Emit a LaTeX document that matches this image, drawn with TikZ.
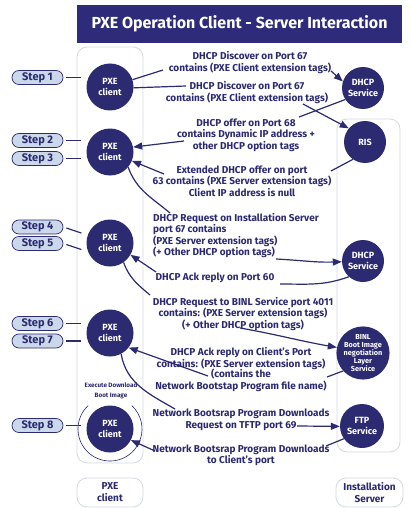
\documentclass[tikz,border=0pt]{standalone}
\usepackage{fontspec}
\setmainfont{Fira Sans}
\usetikzlibrary{arrows.meta}
\definecolor{navy}{HTML}{2C2A70}
\definecolor{titlebg}{HTML}{2E2C7A}
\definecolor{pillbg}{HTML}{CBD8EA}
\definecolor{colbox}{HTML}{D3DAE3}
\begin{document}
\begin{tikzpicture}[x=1pt,y=1pt,
  txt/.style={text=navy, font=\bfseries\fontsize{10}{11.5}\selectfont, align=center, inner sep=0pt},
  client/.style={circle, fill=navy, minimum size=47pt, inner sep=0pt, text=white, font=\bfseries\fontsize{9}{11.5}\selectfont, align=center},
  server/.style={circle, fill=navy, minimum size=42pt, inner sep=0pt, text=white, font=\bfseries\fontsize{9}{11}\selectfont, align=center},
  steppill/.style={draw=navy, line width=0.7pt, fill=pillbg, rounded corners=7pt, minimum width=51pt, minimum height=14pt, inner sep=0pt, text=navy, font=\bfseries\fontsize{11}{11}\selectfont},
  conn/.style={draw=navy, line width=1.2pt},
  arr/.style={conn, -{Triangle[length=9pt,width=7pt]}},
  column/.style={draw=colbox, line width=0.8pt, rounded corners=10pt, fill=white},
  lbl/.style={column, text=navy, font=\bfseries\fontsize{10}{12}\selectfont, align=center, inner sep=0pt}
]
\useasboundingbox (0,0) rectangle (410,-508);
\fill[white] (0,0) rectangle (410,-508);

% title
\node[fill=titlebg, minimum width=325pt, minimum height=38pt, inner sep=0pt, text=white,
      font=\bfseries\fontsize{16}{16}\selectfont] (title) at (239.5,-24) {PXE Operation Client - Server Interaction};

% columns
\draw[column] (77,-47) rectangle (143,-463);
\draw[column] (337,-119) rectangle (400,-452);
\node[lbl, minimum width=66pt, minimum height=29pt] (lblc) at (110,-492.5) {PXE\\client};
\node[lbl, minimum width=67pt, minimum height=29pt] (lbls) at (369.5,-492.5) {Installation\\Server};

% client circles
\node[client] (c1) at (110,-87) {PXE\\client};
\node[client] (c2) at (110,-152) {PXE\\client};
\node[client] (c3) at (110,-243) {PXE\\client};
\node[client] (c4) at (110,-333) {PXE\\client};
\node[client] (c5) at (110,-429) {PXE\\client};
\draw[navy, line width=0.6pt] (c5.center) ++(133:32) arc[start angle=133, end angle=407, radius=32];
\node[txt, font=\bfseries\fontsize{6.3}{10.5}\selectfont] (tX) at (111,-391) {Execute Download\\Boot Image};

% server circles
\node[server] (d1) at (363,-88) {DHCP\\Service};
\node[server] (ris) at (365,-142) {RIS};
\node[server] (d2) at (363,-261) {DHCP\\Service};
\node[server, minimum size=46pt, font=\bfseries\fontsize{7.3}{7.9}\selectfont] (binl) at (363,-353) {BINL\\Boot Image\\negotiation\\Layer\\Service};
\node[server, minimum size=44pt] (ftp) at (362,-426) {FTP\\Service};

% step pills
\node[steppill] (s1) at (37.5,-77.5) {Step 1};
\node[steppill] (s2) at (37.5,-140.5) {Step 2};
\node[steppill] (s3) at (37.5,-158.5) {Step 3};
\node[steppill] (s4) at (37.5,-227) {Step 4};
\node[steppill] (s5) at (37.5,-243.5) {Step 5};
\node[steppill] (s6) at (37.5,-323.5) {Step 6};
\node[steppill] (s7) at (37.5,-341) {Step 7};
\node[steppill] (s8) at (37.5,-425.5) {Step 8};
\foreach \s in {s1,s2,s3,s6,s7,s8}
  \draw[conn] (\s.east) ++(3,0) -- ++(15,0);
\draw[conn] (s4.east) ++(3,-1) -- ++(15,-5);
\draw[conn] (s5.east) ++(3,-1) -- ++(15,-5);

% texts
\node[txt] (tA) at (250,-62.5) {DHCP Discover on Port 67\\contains (PXE Client extension tags)};
\node[txt] (tB) at (247,-92.5) {DHCP Discover on Port 67\\contains (PXE Client extension tags)};
\node[txt] (tC) at (246,-135) {DHCP offer on Port 68\\contains Dynamic IP address +\\other DHCP option tags};
\node[txt] (tD) at (242,-181) {Extended DHCP offer on port\\63 contains (PXE Server extension tags)\\Client IP address is null};
\node[txt, anchor=west, align=left] (tE) at (153,-235.5) {DHCP Request on Installation Server\\port 67 contains\\(PXE Server extension tags)\\(+ Other DHCP option tags)};
\node[txt] (tF) at (215,-278) {DHCP Ack reply on Port 60};
\node[txt] (tG) at (243,-314) {DHCP Request to BINL Service port 4011\\contains: (PXE Server extension tags)\\(+ Other DHCP option tags)};
\node[txt] (tH) at (241,-358.5) {DHCP Ack reply on Client's Port\\contains: (PXE Server extension tags)};
\node[txt, font=\bfseries\fontsize{10}{12.5}\selectfont] (tHb) at (241,-380.5) {(contains the\\Network Bootstap Program file name)};
\node[txt] (tI) at (241,-420) {Network Bootsrap Program Downloads\\Request on TFTP port 69};
\node[txt] (tJ) at (241,-455.5) {Network Bootsrap Program Downloads\\to Client's port};

% connector free ends
\coordinate (a1) at (163,-70);  \coordinate (a2) at (331,-71);
\coordinate (b1) at (186,-86);  \coordinate (b2) at (303,-104);
\coordinate (k1) at (299,-117); \coordinate (k2) at (184,-141);
\coordinate (m1) at (331,-171); \coordinate (m2) at (164,-174);
\coordinate (e1) at (170,-213); \coordinate (e2) at (276,-259);
\coordinate (f1) at (280,-284); \coordinate (f2) at (156,-272);
\coordinate (g1) at (150,-295); \coordinate (g2) at (240,-328);
\coordinate (h1) at (327,-377); \coordinate (h2) at (208,-376);
\coordinate (i1) at (175,-409); \coordinate (i2) at (297,-426);
\coordinate (j1) at (326,-446); \coordinate (j2) at (155,-451);

% connectors
\draw[conn] (c1.18) -- (a1);
\draw[arr] (a2) -- (d1.162);
\draw[conn] (c1.-2) -- (b1);
\draw[arr] (b2) -- (ris.140);
\draw[conn] (d1.213) -- (k1);
\draw[arr] (k2) -- (c2.12);
\draw[conn] (ris.235) -- (m1);
\draw[arr] (m2) -- (c2.-22);
\draw[conn] (c2.-40) to[out=-70,in=140] (e1);
\draw[arr] (e2) to[out=-3,in=182] (d2.182);
\draw[conn] (d2.228) to[out=200,in=0] (f1);
\draw[arr] (f2) -- (c3.-30);
\draw[conn] (c3.-55) to[out=-70,in=140] (g1);
\draw[arr] (g2) to[out=-10,in=170] (binl.168);
\draw[conn] (binl.222) -- (h1);
\draw[arr] (h2) -- (c4.-38);
\draw[conn] (c4.-62) to[out=-80,in=150] (i1);
\draw[arr] (i2) -- (ftp.181);
\draw[conn] (ftp.215) -- (j1);
\draw[arr] (j2) -- (c5.-28);
\end{tikzpicture}
\end{document}
